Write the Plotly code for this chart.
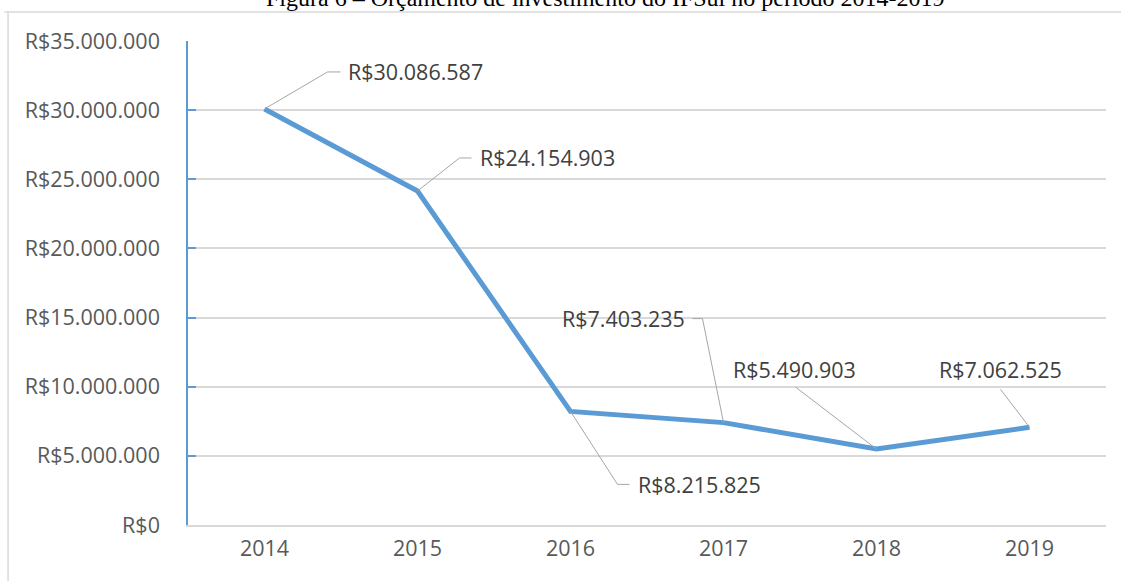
import plotly.graph_objects as go

# dados do gráfico
anos = [2014, 2015, 2016, 2017, 2018, 2019]
orcamento = [30086587, 24154903, 8215825, 7403235, 5490903, 7062525]
titulo = "Figura 6 – Orçamento de investimento do IFSul no período 2014-2019"

AZUL = "#5B9BD5"
CINZA_GRADE = "#D9D9D9"
CINZA_TEXTO = "#595959"
CINZA_LINHA = "#A6A6A6"


def moeda(v):
    return "R$" + f"{v:,.0f}".replace(",", ".")


# deslocamentos (px) das linhas de chamada e dos rótulos, por ponto
chamadas = [
    "M0,0 L63,37 L76,37",
    "M0,0 L42,33 L54,33",
    "M0,0 L47,-73 L59,-73",
    "M0,0 L-21,104 L-31,104",
    "M0,0 L-81,62",
    "M0,0 L-29,38",
]
rotulos = [
    dict(xanchor="left", xshift=81, yshift=37),
    dict(xanchor="left", xshift=60, yshift=33),
    dict(xanchor="left", xshift=65, yshift=-73),
    dict(xanchor="right", xshift=-37, yshift=104),
    dict(xanchor="center", xshift=-82, yshift=80),
    dict(xanchor="center", xshift=-29, yshift=58),
]

fig = go.Figure(go.Scatter(
    x=anos, y=orcamento, mode="lines",
    line=dict(color=AZUL, width=5),
    hoverinfo="skip", showlegend=False,
))

shapes = []
annotations = []
for ano, val, path, rot in zip(anos, orcamento, chamadas, rotulos):
    shapes.append(dict(
        type="path", xref="x", yref="y", xsizemode="pixel", ysizemode="pixel",
        xanchor=ano, yanchor=val, path=path,
        line=dict(color=CINZA_LINHA, width=1),
    ))
    annotations.append(dict(
        x=ano, y=val, xref="x", yref="y", text=moeda(val), showarrow=False,
        yanchor="middle", font=dict(size=21.5, color="#404040"), **rot,
    ))

# moldura externa (topo e esquerda) e título cortado
shapes.append(dict(type="line", xref="paper", yref="paper",
                   x0=-0.2, x1=1.02, y0=1.0599, y1=1.0599,
                   line=dict(color=CINZA_GRADE, width=1.5)))
shapes.append(dict(type="line", xref="paper", yref="paper",
                   x0=-0.196, x1=-0.196, y0=-0.2, y1=1.0599,
                   line=dict(color=CINZA_GRADE, width=1.5)))
annotations.append(dict(
    x=0.5, y=1.0579, xref="paper", yref="paper", xshift=-42,
    text=titulo, showarrow=False, yanchor="bottom",
    font=dict(family="Liberation Serif", size=24, color="black"),
))

fig.update_layout(
    width=1121, height=581,
    margin=dict(l=188, r=15, t=41, b=56),
    paper_bgcolor="white", plot_bgcolor="white",
    font=dict(family="Open Sans", size=21.5, color=CINZA_TEXTO),
    separators=",.",
    shapes=shapes, annotations=annotations,
    xaxis=dict(
        range=[2013.5, 2019.5], tickvals=anos, ticktext=[str(a) for a in anos],
        showgrid=False, zeroline=False, showline=True,
        linecolor=CINZA_GRADE, linewidth=1.5, ticks="", ticklabelstandoff=3,
    ),
    yaxis=dict(
        range=[0, 35000000], dtick=5000000, tickprefix="R$", tickformat=",.0f",
        showgrid=True, gridcolor=CINZA_GRADE, gridwidth=1.5, zeroline=False,
        showline=True, linecolor=AZUL, linewidth=1.5,
        ticks="inside", ticklen=8, tickcolor=AZUL, tickwidth=1.5,
        ticklabelstandoff=22,
    ),
)

# a página padrão tem margem de 8px no body; zera para alinhar à janela
fig.write_html(
    "out.html",
    config={"displayModeBar": False},
    post_script="document.body.style.margin='0';",
)
